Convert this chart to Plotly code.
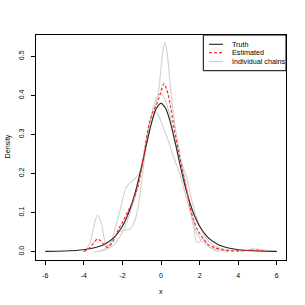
import plotly.graph_objects as go

# ---- data ----
truth_x = [-6, -5, -4, -3.5, -3, -2.5, -2, -1.75, -1.5, -1.25, -1, -0.75, -0.5, -0.25, 0,
           0.25, 0.5, 0.75, 1, 1.25, 1.5, 1.75, 2, 2.5, 3, 3.5, 4, 5, 6]
truth_y = [0.0007, 0.0018, 0.0051, 0.0092, 0.0173, 0.0333, 0.0651, 0.0905, 0.1245, 0.1679,
           0.2197, 0.2757, 0.3279, 0.3657, 0.3796, 0.3657, 0.3279, 0.2757, 0.2197, 0.1679,
           0.1245, 0.0905, 0.0651, 0.0333, 0.0173, 0.0092, 0.0051, 0.0018, 0.0007]

est_x = [-4.0, -3.7, -3.5, -3.3, -3.1, -2.9, -2.75, -2.5, -2.2, -2.0, -1.7, -1.5, -1.2, -1.0,
         -0.8, -0.6, -0.4, -0.2, 0, 0.15, 0.3, 0.5, 0.7, 0.9, 1.1, 1.3, 1.5, 1.7, 1.9, 2.1,
         2.4, 2.8, 3.2, 3.6, 4.0, 4.4, 4.8, 5.2, 5.5]
est_y = [0.0, 0.01, 0.022, 0.032, 0.027, 0.014, 0.011, 0.025, 0.058, 0.075, 0.105, 0.125,
         0.165, 0.215, 0.275, 0.33, 0.36, 0.38, 0.41, 0.43, 0.415, 0.37, 0.31, 0.26, 0.21,
         0.165, 0.115, 0.08, 0.055, 0.04, 0.02, 0.01, 0.005, 0.002, 0.0015, 0.003, 0.004,
         0.003, 0.0]

chainA_x = [-3.2, -2.8, -2.5, -2.2, -1.9, -1.6, -1.35, -1.2, -1.0, -0.8, -0.5, -0.3, -0.1,
            0.0, 0.1, 0.2, 0.3, 0.4, 0.5, 0.6, 0.8, 1.0, 1.2, 1.4, 1.6, 1.8, 2.0, 2.5, 3.0,
            3.5]
chainA_y = [0.0, 0.01, 0.03, 0.05, 0.055, 0.058, 0.08, 0.11, 0.18, 0.26, 0.33, 0.37, 0.42,
            0.47, 0.515, 0.535, 0.515, 0.47, 0.415, 0.37, 0.3, 0.245, 0.195, 0.145, 0.095,
            0.055, 0.035, 0.012, 0.004, 0.001]

chainB_x = [-4.0, -3.7, -3.5, -3.3, -3.1, -2.95, -2.8, -2.6, -2.4, -2.1, -1.8, -1.5, -1.2,
            -1.0, -0.8, -0.6, -0.4, -0.3, -0.1, 0.1, 0.3, 0.6, 1.0, 1.3, 1.5, 1.7, 1.85,
            2.0, 2.15, 2.3, 2.5, 2.8, 3.0]
chainB_y = [0.0, 0.02, 0.06, 0.094, 0.075, 0.035, 0.015, 0.025, 0.055, 0.11, 0.165, 0.18,
            0.195, 0.215, 0.27, 0.33, 0.355, 0.358, 0.345, 0.32, 0.295, 0.25, 0.195, 0.14,
            0.105, 0.06, 0.025, 0.025, 0.034, 0.028, 0.013, 0.003, 0.0]

chainC_x = [-3.5, -3.0, -2.5, -2.0, -1.6, -1.3, -1.0, -0.7, -0.4, -0.15, 0.0, 0.2, 0.5, 0.8,
            1.0, 1.3, 1.6, 1.9, 2.2, 2.6, 3.0, 3.5, 4.0, 4.5, 4.9, 5.3, 5.8, 6.0]
chainC_y = [0.0, 0.003, 0.015, 0.05, 0.1, 0.15, 0.22, 0.3, 0.37, 0.4, 0.405, 0.39, 0.34,
            0.27, 0.235, 0.195, 0.13, 0.08, 0.045, 0.02, 0.01, 0.005, 0.003, 0.005, 0.007,
            0.004, 0.001, 0.0]

x_ticks = [-6, -4, -2, 0, 2, 4, 6]
y_ticks = [0.0, 0.1, 0.2, 0.3, 0.4, 0.5]
legend_labels = ["Truth", "Estimated", "Individual chains"]

FONT = "Liberation Sans, Arial, Helvetica, sans-serif"
GRAY = "#d0d0d0"

fig = go.Figure()
for cx, cy in [(chainA_x, chainA_y), (chainB_x, chainB_y), (chainC_x, chainC_y)]:
    fig.add_trace(go.Scatter(x=cx, y=cy, mode="lines", line=dict(color=GRAY, width=1.1,
                             shape="spline", smoothing=0.8), showlegend=False,
                             hoverinfo="skip"))
fig.add_trace(go.Scatter(x=truth_x, y=truth_y, mode="lines", name=legend_labels[0],
                         line=dict(color="#222222", width=1.1, shape="spline", smoothing=0.8),
                         showlegend=False))
fig.add_trace(go.Scatter(x=est_x, y=est_y, mode="lines", name=legend_labels[1],
                         line=dict(color="#ff2a2a", width=1.2, dash="3px,2px",
                                   shape="spline", smoothing=0.8),
                         showlegend=False))

L, R, T, B = 36, 19, 35, 45
W, H = 305 - L - R, 305 - T - B

def px_x(p):
    return (p - L) / W

def px_y(p):
    return (305 - B - p) / H

# legend (R-style, top right, inside box)
shapes = [dict(type="rect", xref="paper", yref="paper", x0=px_x(203.3), x1=1.0,
               y0=px_y(70.7), y1=1.0, line=dict(color="black", width=1),
               fillcolor="white", layer="above")]
annotations = []
entry_y = [44.3, 52.7, 61.6]
entry_style = [dict(color="#222222", width=1.1, dash="solid"),
               dict(color="#ff2a2a", width=1.2, dash="3px,2px"),
               dict(color=GRAY, width=1.1, dash="solid")]
for lab, ey, st in zip(legend_labels, entry_y, entry_style):
    shapes.append(dict(type="line", xref="paper", yref="paper", x0=px_x(209), x1=px_x(223),
                       y0=px_y(ey), y1=px_y(ey), line=st, layer="above"))
    annotations.append(dict(text=lab, xref="paper", yref="paper", x=px_x(229.5), y=px_y(ey),
                            xanchor="left", yanchor="middle", showarrow=False,
                            font=dict(family=FONT, size=7.2, color="black")))

annotations.append(dict(text="x", xref="paper", yref="paper", x=px_x(161), y=px_y(291),
                        xanchor="center", yanchor="middle", showarrow=False,
                        font=dict(family=FONT, size=7.2, color="black")))
annotations.append(dict(text="Density", xref="paper", yref="paper", x=px_x(6.5),
                        y=px_y(147), xanchor="center", yanchor="middle", textangle=-90,
                        showarrow=False, font=dict(family=FONT, size=7.2, color="black")))

fig.update_layout(
    width=305, height=305,
    margin=dict(l=L, r=R, t=T, b=B, autoexpand=False),
    paper_bgcolor="white", plot_bgcolor="white",
    shapes=shapes, annotations=annotations,
    showlegend=False,
    xaxis=dict(range=[-6.48, 6.48], tickvals=x_ticks, ticktext=[str(v) for v in x_ticks],
               ticks="outside", ticklen=4, tickwidth=1, tickcolor="black",
               showline=True, mirror=True, linecolor="black", linewidth=1,
               showgrid=False, zeroline=False, automargin=False,
               tickfont=dict(family=FONT, size=7, color="black"), ticklabelstandoff=5),
    yaxis=dict(range=[-0.0213, 0.5546], tickvals=y_ticks,
               ticktext=["%.1f" % v for v in y_ticks], tickangle=-90,
               ticks="outside", ticklen=4, tickwidth=1, tickcolor="black",
               showline=True, mirror=True, linecolor="black", linewidth=1,
               showgrid=False, zeroline=False, automargin=False,
               tickfont=dict(family=FONT, size=7, color="black"), ticklabelstandoff=4),
)

fig.write_html("out.html", config={"displayModeBar": False},
               post_script="document.body.style.margin='0';document.body.style.padding='0';")
